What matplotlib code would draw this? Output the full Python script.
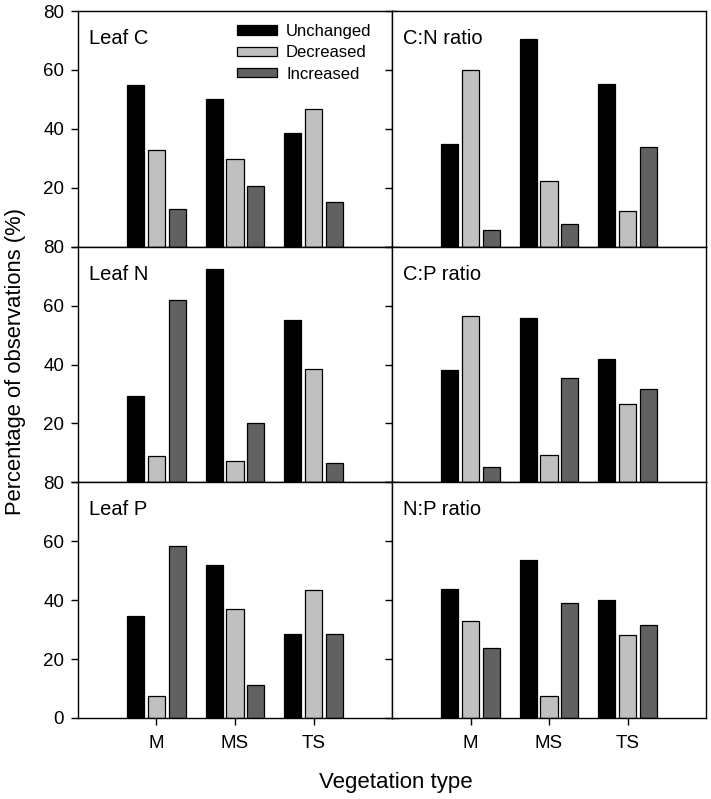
import matplotlib.pyplot as plt
import numpy as np

plt.rcParams["font.family"] = ["Liberation Sans", "DejaVu Sans"]

# vegetation types and change classes
veg_types = ["M", "MS", "TS"]
classes = ["Unchanged", "Decreased", "Increased"]
class_colors = ["#000000", "#c0c0c0", "#616161"]

# percentage of observations per panel: rows = class, cols = vegetation type
leaf_c = [[54.8, 50.2, 38.5], [32.8, 29.7, 46.9], [12.9, 20.6, 15.3]]
cn_ratio = [[34.8, 70.6, 55.3], [60.0, 22.4, 12.0], [5.6, 7.6, 33.7]]
leaf_n = [[29.2, 72.3, 55.1], [9.1, 7.3, 38.4], [61.9, 20.3, 6.7]]
cp_ratio = [[38.3, 55.8, 41.7], [56.4, 9.3, 26.6], [5.3, 35.3, 31.6]]
leaf_p = [[34.6, 52.1, 28.5], [7.3, 37.0, 43.3], [58.3, 11.2, 28.5]]
np_ratio = [[43.8, 53.8, 40.1], [32.8, 7.6, 28.3], [23.7, 39.0, 31.7]]

panels = [
    ("Leaf C", leaf_c), ("C:N ratio", cn_ratio),
    ("Leaf N", leaf_n), ("C:P ratio", cp_ratio),
    ("Leaf P", leaf_p), ("N:P ratio", np_ratio),
]

fig, axes = plt.subplots(3, 2, figsize=(7.11, 7.99), dpi=100)
fig.subplots_adjust(left=0.1097, right=0.993, top=0.9862, bottom=0.1014,
                    hspace=0, wspace=0)

x = np.arange(1, len(veg_types) + 1)
width = 0.22
offsets = [-0.265, 0.0, 0.265]

for i, (ax, (name, vals)) in enumerate(zip(axes.flat, panels)):
    row, col = divmod(i, 2)
    for k in range(3):
        ax.bar(x + offsets[k], vals[k], width, color=class_colors[k],
               edgecolor="black", linewidth=0.9, label=classes[k], zorder=2)
    ax.set_xlim(0, 4)
    ax.set_ylim(0, 80)
    ax.set_xticks(x)
    ax.set_yticks([0, 20, 40, 60, 80])
    for sp in ax.spines.values():
        sp.set_linewidth(1.0)
    ax.tick_params(axis="both", direction="out", length=5, width=1.0,
                   labelsize=13.5)
    ax.tick_params(axis="x", pad=7)
    ax.tick_params(axis="y", pad=5)
    if row < 2:
        ax.set_xticklabels([])
    else:
        ax.set_xticklabels(veg_types)
    if col == 0:
        ax.yaxis.set_ticks_position("both")
        labels = ["0" if row == 2 else "", "20", "40", "60", "80"]
        ax.set_yticklabels(labels)
    else:
        ax.set_yticklabels([])
    ax.text(0.035, 0.86, name, transform=ax.transAxes, fontsize=14.5,
            va="baseline", ha="left")

axes[0, 0].legend(loc="upper left", bbox_to_anchor=(0.506, 0.945),
                  frameon=False, fontsize=12, handlelength=2.4,
                  handleheight=0.5, labelspacing=0.38, borderpad=0,
                  borderaxespad=0, handletextpad=0.55)

fig.text(0.022, 0.548, "Percentage of observations (%)", rotation=90,
         ha="center", va="center", fontsize=15.8)
fig.text(0.557, 0.0138, "Vegetation type", ha="center", va="baseline",
         fontsize=16)

fig.savefig("out.png", dpi=100)
